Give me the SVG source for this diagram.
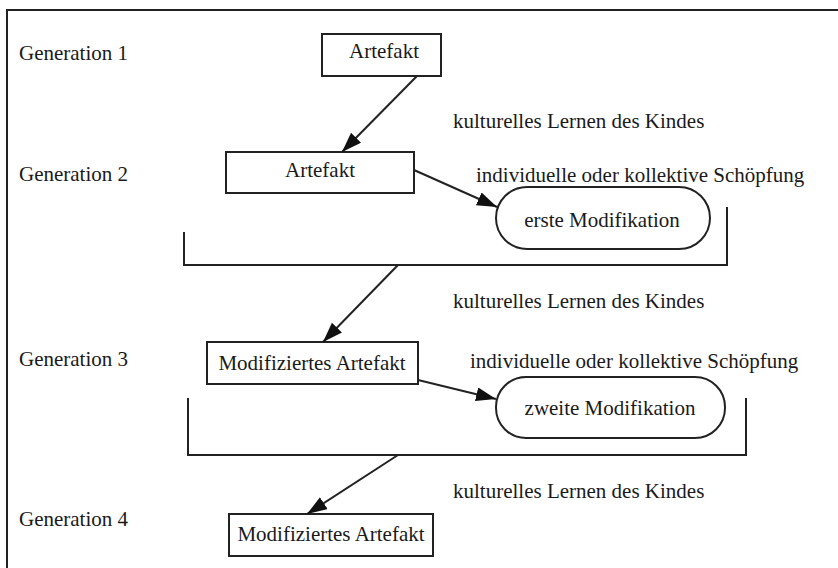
<svg xmlns="http://www.w3.org/2000/svg" width="838" height="568" viewBox="0 0 838 568">
<style>
text{font-family:"Liberation Serif","Times New Roman",serif;font-size:21px;fill:#1a1a1a}
.c{text-anchor:middle}
.box{fill:#fff;stroke:#222;stroke-width:2}
.ln{fill:none;stroke:#222;stroke-width:2}
</style>
<defs>
<marker id="ah" markerUnits="userSpaceOnUse" markerWidth="22" markerHeight="16" refX="20" refY="7" orient="auto">
<path d="M0,0 L20,7 L0,14 z" fill="#111"/>
</marker>
</defs>
<rect width="838" height="568" fill="#fff"/>
<g id="frame"><polyline class="ln" points="7,568 7,10 838,10"/></g>
<g id="labels">
<text x="19" y="60">Generation 1</text>
<text x="19" y="181">Generation 2</text>
<text x="19" y="366">Generation 3</text>
<text x="19" y="526">Generation 4</text>
<text x="453" y="128">kulturelles Lernen des Kindes</text>
<text x="476" y="182">individuelle oder kollektive Schöpfung</text>
<text x="453" y="308">kulturelles Lernen des Kindes</text>
<text x="470" y="368">individuelle oder kollektive Schöpfung</text>
<text x="453" y="498">kulturelles Lernen des Kindes</text>
</g>
<g id="brackets">
<polyline class="ln" points="184,232 184,265 727,265 727,207"/>
<polyline class="ln" points="188,398 188,455 746,455 746,398"/>
</g>
<g id="n1"><rect class="box" x="322" y="34" width="119" height="42"/><text class="c" x="384" y="58">Artefakt</text></g>
<g id="n2"><rect class="box" x="226" y="152" width="188" height="41"/><text class="c" x="320" y="177">Artefakt</text></g>
<g id="m1"><rect class="box" x="496" y="187" width="214" height="62" rx="31"/><text class="c" x="602" y="227">erste Modifikation</text></g>
<g id="n3"><rect class="box" x="207" y="342" width="211" height="42"/><text class="c" x="312" y="370">Modifiziertes Artefakt</text></g>
<g id="m2"><rect class="box" x="496" y="377" width="229" height="61" rx="30"/><text class="c" x="610" y="415">zweite Modifikation</text></g>
<g id="n4"><rect class="box" x="229" y="514" width="204" height="42"/><text class="c" x="331" y="541">Modifiziertes Artefakt</text></g>
<g id="connectors">
<line class="ln" x1="417" y1="76" x2="342" y2="152" marker-end="url(#ah)"/>
<line class="ln" x1="414" y1="170" x2="497" y2="207" marker-end="url(#ah)"/>
<line class="ln" x1="398" y1="265" x2="323" y2="342" marker-end="url(#ah)"/>
<line class="ln" x1="418" y1="380" x2="496" y2="399" marker-end="url(#ah)"/>
<line class="ln" x1="398" y1="455" x2="307" y2="514" marker-end="url(#ah)"/>
</g>
</svg>
